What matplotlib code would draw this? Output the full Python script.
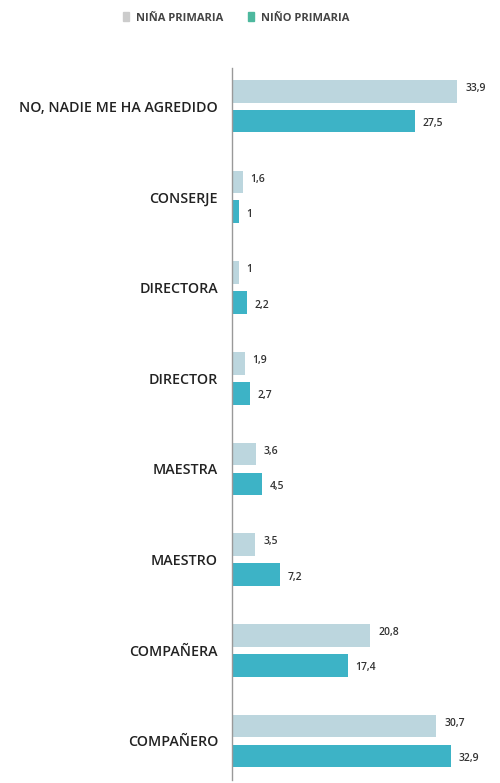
import matplotlib
matplotlib.use("Agg")
import matplotlib.pyplot as plt
import numpy as np
from matplotlib.patches import Patch

categories = ["NO, NADIE ME HA AGREDIDO", "CONSERJE", "DIRECTORA", "DIRECTOR",
              "MAESTRA", "MAESTRO", "COMPAÑERA", "COMPAÑERO"]
nina = [33.9, 1.6, 1, 1.9, 3.6, 3.5, 20.8, 30.7]
nino = [27.5, 1, 2.2, 2.7, 4.5, 7.2, 17.4, 32.9]
nina_labels = ["33,9", "1,6", "1", "1,9", "3,6", "3,5", "20,8", "30,7"]
nino_labels = ["27,5", "1", "2,2", "2,7", "4,5", "7,2", "17,4", "32,9"]
series_names = ["NIÑA PRIMARIA", "NIÑO PRIMARIA"]

plt.rcParams['font.family'] = ['Open Sans', 'DejaVu Sans']

fig = plt.figure(figsize=(5, 7.83), dpi=100)
ax = fig.add_axes([0.464, 0.004, 0.496, 0.909])

y = np.arange(len(categories))
off = 0.165
h = 0.25
c_nina = "#bcd6de"
c_nino = "#3db3c6"
ax.barh(y - off, nina, height=h, color=c_nina)
ax.barh(y + off, nino, height=h, color=c_nino)

for yi, v, s in zip(y, nina, nina_labels):
    ax.text(v + 1.2, yi - off - 0.03, s, va="center", ha="left", fontsize=7.5,
            fontweight="semibold", color="#333333")
for yi, v, s in zip(y, nino, nino_labels):
    ax.text(v + 1.2, yi + off + 0.03, s, va="center", ha="left", fontsize=7.5,
            fontweight="semibold", color="#333333")

ax.set_xlim(0, 37.3)
ax.set_ylim(len(categories) - 1 + 0.43, -0.42)
ax.set_yticks(y)
ax.set_yticklabels(categories, fontsize=10.3, fontweight="semibold", color="#222222")
ax.tick_params(axis="y", length=0, pad=10)
ax.set_xticks([])
for s in ["top", "right", "bottom"]:
    ax.spines[s].set_visible(False)
ax.spines["left"].set_color("#999999")
ax.spines["left"].set_linewidth(1)

handles = [Patch(color="#cccccc"), Patch(color="#4db89e")]
fig.legend(handles, series_names, loc="center", bbox_to_anchor=(0.472, 0.977), ncol=2,
           frameon=False, prop={"size": 8, "weight": "bold"}, handlelength=0.6,
           handleheight=0.8, handletextpad=0.6, columnspacing=2.2, labelcolor="#444444")

fig.savefig("out.png", dpi=100)
